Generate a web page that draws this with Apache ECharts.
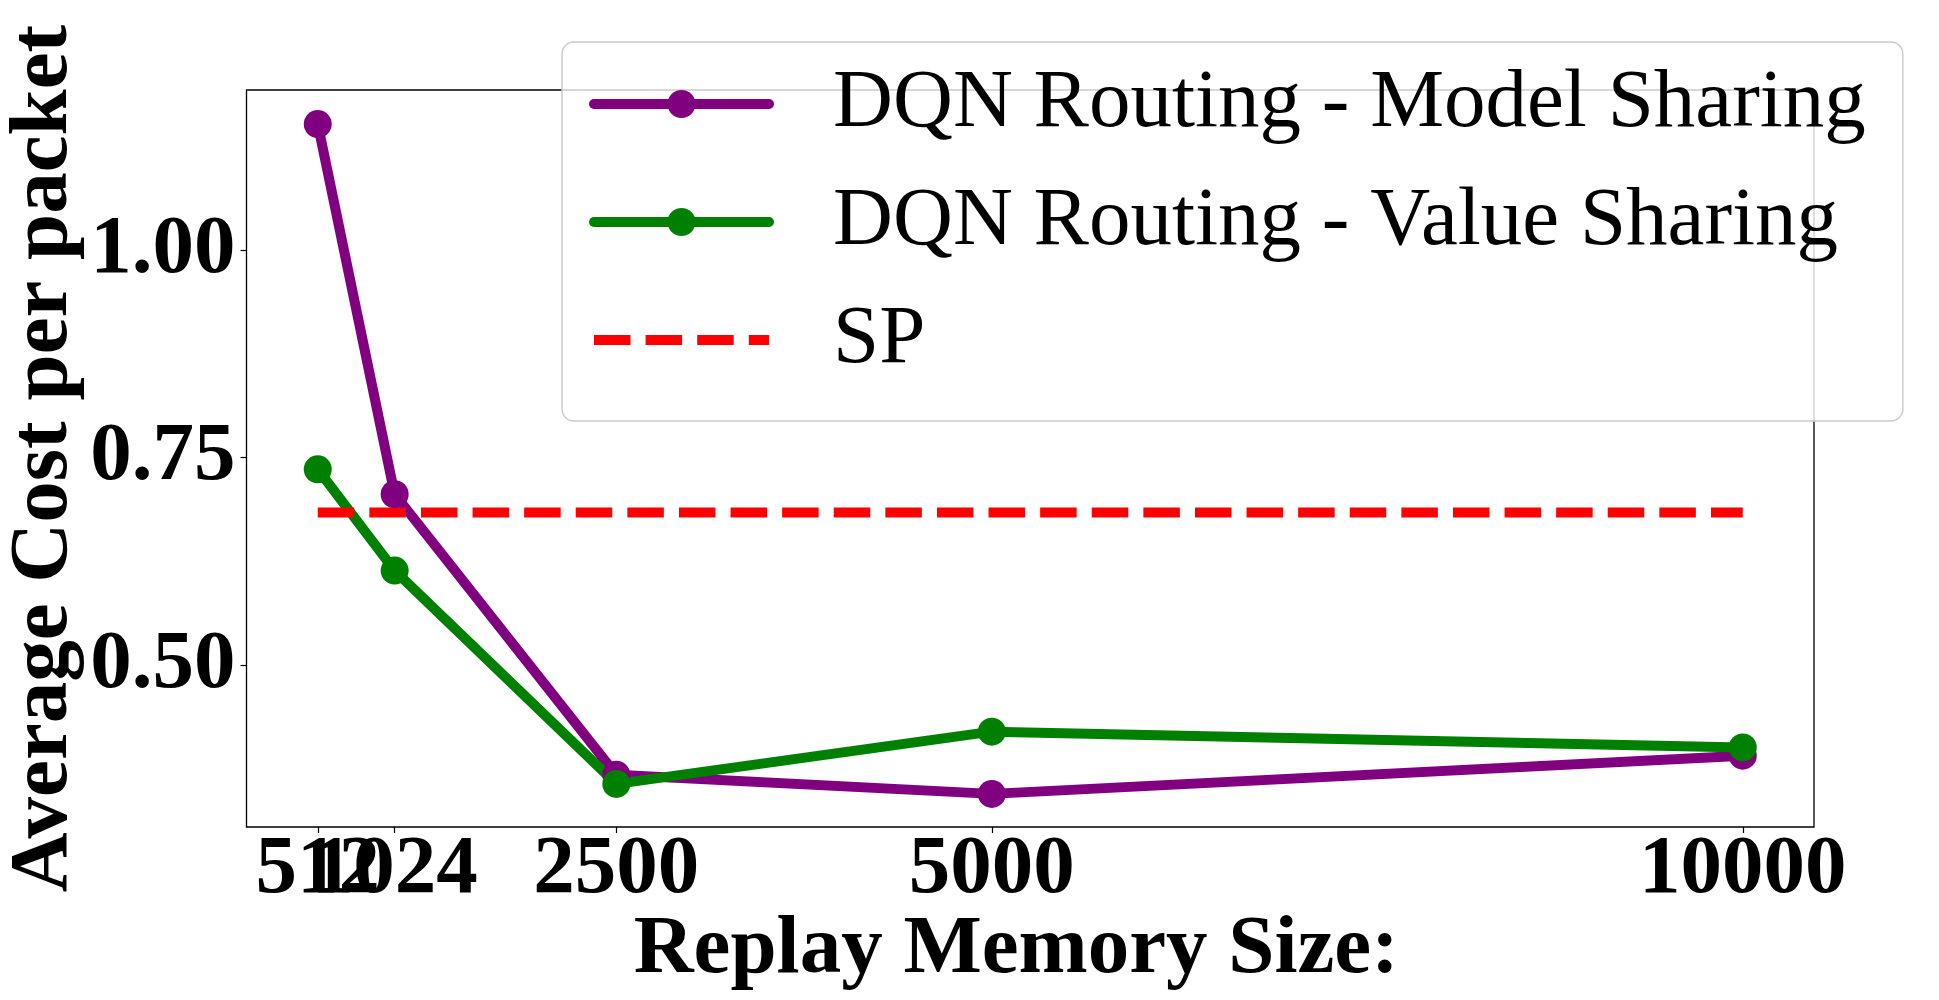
<!DOCTYPE html>
<html><head><meta charset="utf-8">
<script src="https://cdn.jsdelivr.net/npm/echarts@6/dist/echarts.min.js"></script>
<style>html,body{margin:0;padding:0;background:#fff}#c{width:1939px;height:1000px}</style>
</head><body><div id="c"></div>
<script>
const memorySizes = [512, 1024, 2500, 5000, 10000];
const modelSharing = [1.152, 0.706, 0.368, 0.345, 0.391];
const valueSharing = [0.736, 0.614, 0.357, 0.420, 0.401];
const spCost = 0.684;
const xTicks = [512, 1024, 2500, 5000, 10000];
const yTicks = [0.50, 0.75, 1.00];
const seriesNames = ['DQN Routing - Model Sharing', 'DQN Routing - Value Sharing', 'SP'];
const colors = ['#800080', '#008000', '#ff0000'];
const xTitle = 'Replay Memory Size:';
const yTitle = 'Average Cost per packet';

const FONT = '"Liberation Serif", "Times New Roman", serif';
const FS = 83;

// font metrics relative to a 'middle' baseline (as zrender draws text)
const mctx = document.createElement('canvas').getContext('2d');
function metric(txt, weight, which) {
  mctx.font = weight + ' ' + FS + 'px "Liberation Serif"';
  mctx.textBaseline = 'middle';
  return mctx.measureText(txt)[which];
}
const capReg = metric('D', 'normal', 'actualBoundingBoxAscent');
const digBold = metric('2500', 'bold', 'actualBoundingBoxAscent');
const capBold = metric('R', 'bold', 'actualBoundingBoxAscent');
const baseBold = metric('H', 'bold', 'actualBoundingBoxDescent');

// layout targets (px)
const axisBottom = 827, axisLeft = 246.5;
const legendIconY = 104, legendRowStep = 118, legendTop = 42, legendBottom = 421;
const legendCapTop = 78.3;
const shift = (legendCapTop + capReg) - legendIconY;
const padT = Math.max(0, 2 * shift), padB = Math.max(0, -2 * shift);
const textBoxH = FS + padT + padB;
const legendPadTop = (legendIconY - textBoxH / 2) - legendTop;
const legendPadBottom = legendBottom - (legendIconY + 2 * legendRowStep + textBoxH / 2);

const chart = echarts.init(document.getElementById('c'), null, {renderer: 'canvas'});
function pairs(xs, ys) { return xs.map((x, i) => [x, ys[i]]); }

const xMin = 37.6, xMax = 10474.4;
const xLabelStyle = {
  hideOverlap: false,
  margin: 836.5 - axisBottom - FS / 2 + digBold,
  color: '#000', fontFamily: FONT, fontWeight: 'bold', fontSize: FS, lineHeight: FS,
  formatter: v => String(v)
};

const option = {
  animation: false,
  backgroundColor: '#fff',
  grid: {
    left: axisLeft, right: 125, top: 90, bottom: 1000 - axisBottom,
    containLabel: false, outerBoundsMode: 'none',
    show: true, borderColor: '#000', borderWidth: 1.3, backgroundColor: 'transparent'
  },
  xAxis: [
    {
      type: 'value', min: xMin, max: xMax, position: 'bottom',
      splitLine: {show: false},
      axisLine: {show: false},
      axisTick: {show: true, inside: false, length: 6, customValues: xTicks, lineStyle: {color: '#000', width: 1.2}},
      axisLabel: Object.assign({customValues: xTicks.slice(0, 1)}, xLabelStyle),
      name: xTitle, nameLocation: 'middle', nameGap: 917.5 - axisBottom - FS / 2 + capBold,
      nameMoveOverlap: false,
      nameTextStyle: {fontFamily: FONT, fontWeight: 'bold', fontSize: FS, lineHeight: FS, color: '#000', padding: [0, 28, 0, 0]}
    },
    {
      type: 'value', min: xMin, max: xMax, position: 'bottom', offset: 0,
      splitLine: {show: false},
      axisLine: {show: false},
      axisTick: {show: false},
      axisLabel: Object.assign({customValues: xTicks.slice(1)}, xLabelStyle)
    }
  ],
  yAxis: {
    type: 'value', min: 0.3051, max: 1.193,
    splitLine: {show: false},
    axisLine: {show: false},
    axisTick: {show: true, inside: false, length: 6, customValues: yTicks, lineStyle: {color: '#000', width: 1.2}},
    axisLabel: {customValues: yTicks, hideOverlap: false, margin: 11, color: '#000', fontFamily: FONT, fontWeight: 'bold',
      fontSize: FS, lineHeight: FS, formatter: v => v.toFixed(2)},
    name: yTitle, nameLocation: 'middle', nameGap: axisLeft - FS / 2 + baseBold - 65.5,
    nameMoveOverlap: false,
    nameTextStyle: {fontFamily: FONT, fontWeight: 'bold', fontSize: FS, lineHeight: FS, color: '#000'}
  },
  legend: {
    orient: 'vertical', left: 562, top: legendTop,
    padding: [legendPadTop, 37, legendPadBottom, 27],
    itemWidth: 175, itemHeight: 35, itemGap: legendRowStep - textBoxH,
    backgroundColor: 'rgba(255,255,255,0.8)',
    borderColor: '#cccccc', borderWidth: 1.5, borderRadius: 12,
    selectedMode: false,
    textStyle: {fontFamily: FONT, fontSize: FS, color: '#000', lineHeight: FS, padding: [padT, 0, padB, 59]},
    lineStyle: {width: 10},
    data: [
      {name: seriesNames[0]},
      {name: seriesNames[1]},
      {name: seriesNames[2], itemStyle: {color: 'rgba(0,0,0,0)', opacity: 0}}
    ]
  },
  series: [
    {
      name: seriesNames[0], type: 'line', xAxisIndex: 0, data: pairs(memorySizes, modelSharing),
      symbol: 'circle', symbolSize: 28, showAllSymbol: true,
      color: colors[0], itemStyle: {color: colors[0]},
      lineStyle: {width: 10, color: colors[0], join: 'round', cap: 'round'},
      emphasis: {disabled: true}
    },
    {
      name: seriesNames[1], type: 'line', xAxisIndex: 0, data: pairs(memorySizes, valueSharing),
      symbol: 'circle', symbolSize: 28, showAllSymbol: true,
      color: colors[1], itemStyle: {color: colors[1]},
      lineStyle: {width: 10, color: colors[1], join: 'round', cap: 'round'},
      emphasis: {disabled: true}
    },
    {
      name: seriesNames[2], type: 'line', xAxisIndex: 0,
      data: [[memorySizes[0], spCost], [memorySizes[memorySizes.length - 1], spCost]],
      symbol: 'none',
      color: colors[2], itemStyle: {color: colors[2]},
      lineStyle: {width: 10, color: colors[2], type: [36.5, 15.1], cap: 'butt'},
      emphasis: {disabled: true}
    }
  ]
};
chart.setOption(option);
</script></body></html>
